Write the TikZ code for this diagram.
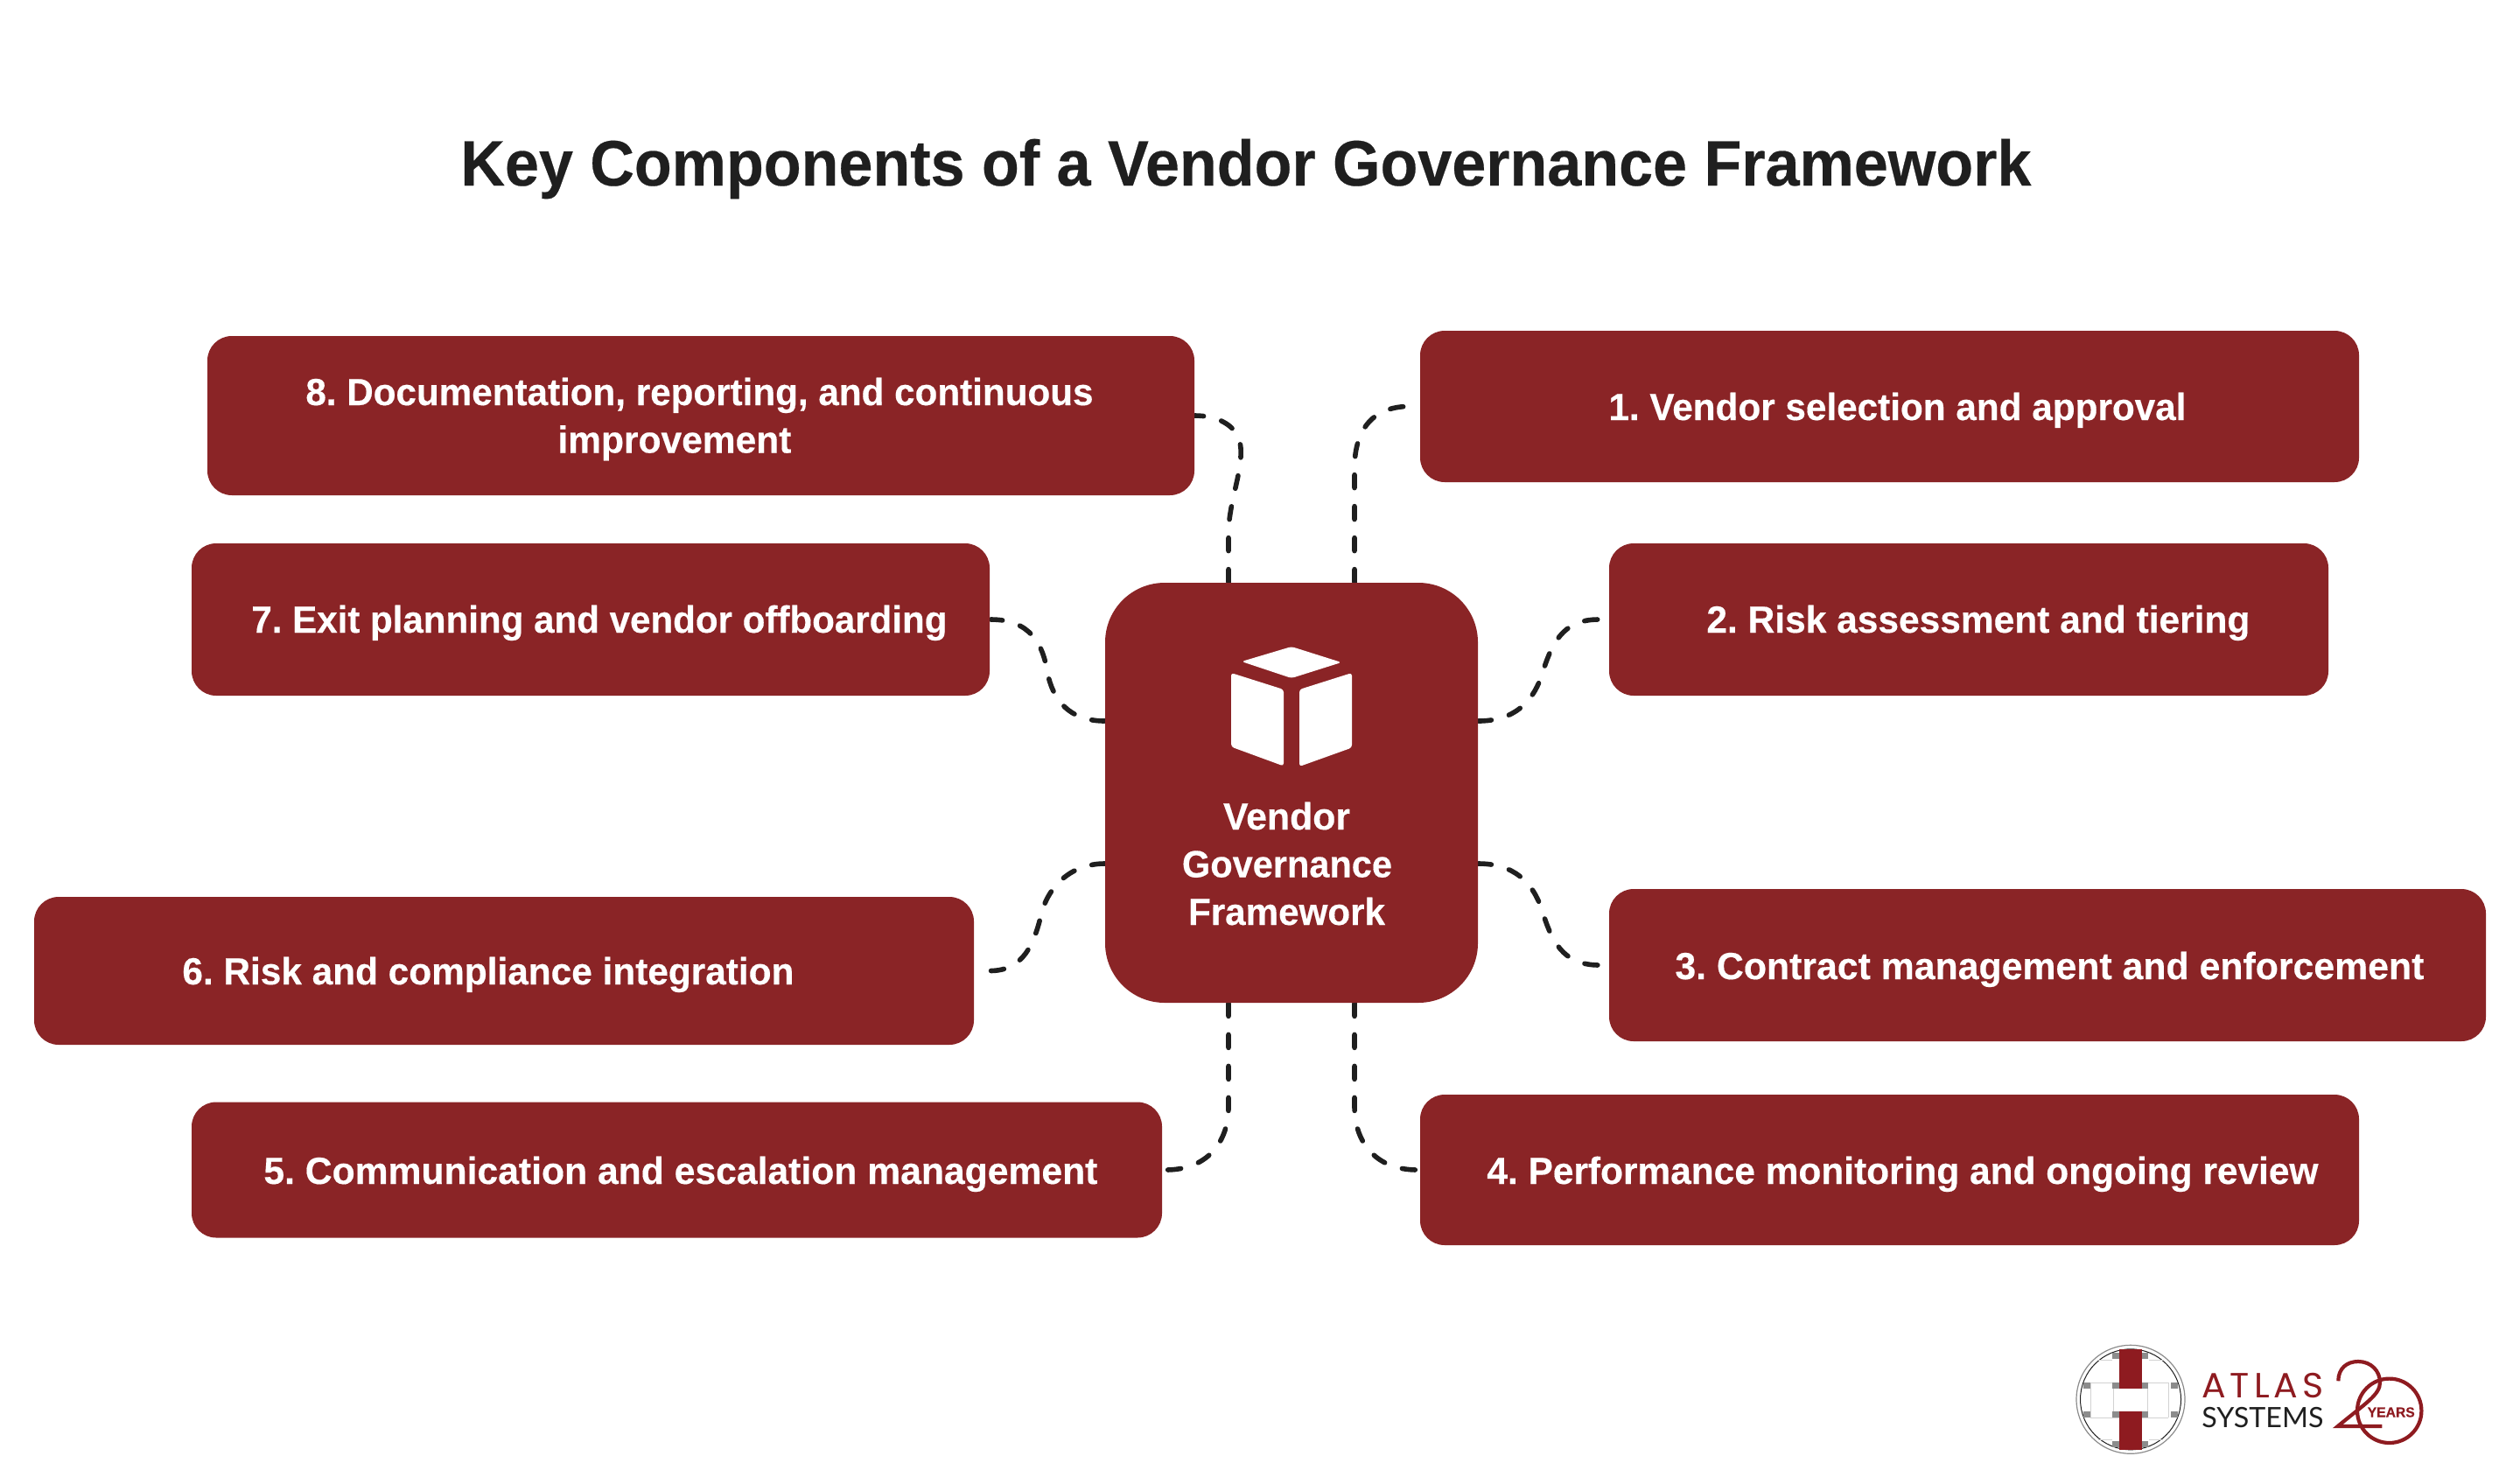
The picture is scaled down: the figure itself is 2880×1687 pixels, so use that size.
\documentclass[tikz,border=0pt]{standalone}
\usepackage{fontspec}
\usepackage{graphicx}
\setmainfont{Liberation Sans}[BoldFeatures={FakeBold=0.35}]
\newfontfamily\logoA[LetterSpace=12]{Poppins}
\newfontfamily\logoB{Lato}
\frenchspacing
\usetikzlibrary{backgrounds,calc}
\definecolor{brandred}{HTML}{8A2426}
\definecolor{inkdark}{HTML}{1F1F1F}
\definecolor{logored}{HTML}{8E1B20}
\definecolor{logogray}{HTML}{8C8C8C}
\definecolor{logoline}{HTML}{D2D2D2}
\newcommand{\fitline}[2]{\resizebox{#1pt}{\height}{#2}}
\tikzset{
  x=0.5pt,y=-0.5pt,
  cardbox/.style={fill=brandred,draw=none,inner sep=0pt,rounded corners=14pt},
  hubbox/.style={fill=brandred,draw=none,inner sep=0pt,rounded corners=34pt},
  cardtext/.style={anchor=base west,inner sep=0pt,text=white,font=\bfseries\fontsize{21.6}{25}\selectfont},
  huptext/.style={anchor=base,inner sep=0pt,text=white,font=\bfseries\fontsize{21.6}{25}\selectfont},
  titletext/.style={anchor=base west,inner sep=0pt,text=inkdark,font=\bfseries\fontsize{36.7}{42}\selectfont},
  conn/.style={draw=inkdark,line width=2.8pt,line cap=round,dash pattern=on 7.5pt off 10.5pt},
  cubeface/.style={fill=white,draw=none,rounded corners=1.6pt},
  graysq/.style={fill=logogray,draw=none},
  logothin/.style={draw=logoline,line width=0.5pt},
}
\newcommand{\cardnode}[5]{\node[cardbox,minimum width={#4*0.5pt},minimum height={#5*0.5pt}] (#1) at (#2,#3) {};}
\begin{document}
\begin{tikzpicture}
\useasboundingbox (0,0) rectangle (2880,1687);

% title
\node[titletext] (title) at (526,212) {\fitline{897.5}{Key Components of a Vendor Governance Framework}};

% cards
\cardnode{b1}{2159.5}{464.5}{1073}{173}
\cardnode{b2}{2250}{708}{822}{174}
\cardnode{b3}{2340}{1103}{1002}{174}
\cardnode{b4}{2159.5}{1337}{1073}{172}
\cardnode{b5}{773.5}{1337}{1109}{155}
\cardnode{b6}{576}{1109.5}{1074}{169}
\cardnode{b7}{675}{708}{912}{174}
\cardnode{b8}{801}{475}{1128}{182}
\node[hubbox,minimum width=213pt,minimum height=240pt] (hub) at (1476,906) {};

% card texts
\node[cardtext] (t1) at (1838,480) {\fitline{330}{1. Vendor selection and approval}};
\node[cardtext] (t2) at (1950,723) {\fitline{310.5}{2. Risk assessment and tiering}};
\node[cardtext] (t3) at (1914,1119) {\fitline{428}{3. Contract management and enforcement}};
\node[cardtext] (t4) at (1699,1353) {\fitline{475}{4. Performance monitoring and ongoing review}};
\node[cardtext] (t5) at (301,1353) {\fitline{476.5}{5. Communication and escalation management}};
\node[cardtext] (t6) at (208,1125) {\fitline{349.5}{6. Risk and compliance integration}};
\node[cardtext] (t7) at (287,723) {\fitline{397.5}{7. Exit planning and vendor offboarding}};
\node[cardtext] (t8a) at (349,463) {\fitline{450}{8. Documentation, reporting, and continuous}};
\node[cardtext] (t8b) at (637,517.5) {\fitline{133.5}{improvement}};

% hub text
\node[huptext] (h1) at (1470.5,948) {\fitline{72.5}{Vendor}};
\node[huptext] (h2) at (1471,1002.5) {\fitline{120}{Governance}};
\node[huptext] (h3) at (1470.5,1057) {\fitline{112.5}{Framework}};

% cube icon
\fill[cubeface] (1476,739) -- (1533,757) -- (1476,775) -- (1419,756) -- cycle;
\fill[cubeface] (1407,769) -- (1467,788) -- (1467,875.5) -- (1407,853.5) -- cycle;
\fill[cubeface] (1485,788) -- (1545,769) -- (1545,854.5) -- (1485,876) -- cycle;

% connectors
\begin{scope}[on background layer]
\draw[conn] ([xshift=36pt]hub.north) -- (1548,535) .. controls (1548,490) and (1570,464) .. ([xshift=-5.5pt]b1.west);
\draw[conn] ([yshift=41pt]hub.east) .. controls (1730,824) and (1752,803) .. (1762.5,770) .. controls (1773,737) and (1785,708) .. ([xshift=-6pt]b2.west);
\draw[conn] ([yshift=-40.5pt]hub.east) .. controls (1730,987) and (1752,1008) .. (1762.5,1041) .. controls (1773,1074) and (1785,1103) .. ([xshift=-5.5pt]b3.west);
\draw[conn] ([xshift=36pt]hub.south) -- (1548,1265) .. controls (1548,1305) and (1572,1337) .. ([xshift=-1.5pt]b4.west);
\draw[conn] ([xshift=-36pt]hub.south) -- (1404,1265) .. controls (1404,1305) and (1380,1337) .. ([xshift=2pt]b5.east);
\draw[conn] ([yshift=-40.5pt]hub.west) .. controls (1225,987) and (1198,1012) .. (1190,1045) .. controls (1182,1078) and (1170,1109.5) .. ([xshift=9pt]b6.east);
\draw[conn] ([yshift=41pt]hub.west) .. controls (1222,824) and (1203,800) .. (1197,768) .. controls (1192,737) and (1178,708) .. ([xshift=0.5pt]b7.east);
\draw[conn] ([xshift=-36pt]hub.north) -- (1404,610) .. controls (1404,575) and (1420,540) .. (1418,512) .. controls (1416,485) and (1390,475) .. (b8.east);
\end{scope}

% logo: woven cross in a double ring
\draw[draw=logogray,line width=0.6pt] (2435,1599.3) circle[radius=62];
\draw[draw=inkdark,line width=0.5pt] (2435,1599.3) circle[radius=57.5];
\foreach \yy in {1580,1620}{\draw[logothin] (2389,\yy) -- (2478,\yy);}
\foreach \xx in {2389,2415,2454,2478}{\draw[logothin] (\xx,1580) -- (\xx,1620);}
\foreach \xx/\yy in {2418/1549.5,2451/1549.5,2384.5/1583,2418/1583,2451/1583,2484.5/1583,2384.5/1616,2418/1616,2451/1616,2484.5/1616,2418/1650,2451/1650}{
  \fill[graysq] (\xx-4,\yy-3.5) rectangle (\xx+4,\yy+3.5);}
\foreach \yy in {1554,1645}{\draw[logothin] (2398,\yy) -- (2414,\yy) (2456,\yy) -- (2472,\yy);}
\fill[logored] (2422,1542.3) rectangle (2447.7,1587.3);
\fill[logored] (2422,1613.3) rectangle (2447.7,1656.7);

\node[anchor=base west,inner sep=0pt,text=logored,font=\logoA\fontsize{20}{24}\selectfont] (atlas) at (2516,1597.3) {\fitline{69.5}{ATLAS}};
\node[anchor=base west,inner sep=0pt,text=inkdark,font=\logoB\fontsize{16}{20}\selectfont] (systems) at (2516,1631.7) {\fitline{69.5}{SYSTEMS}};

% logo: 20 years
\draw[draw=logored,line width=2.1pt] (2730.7,1612.3) circle[radius=36.7];
\draw[draw=logored,line width=2.1pt,line join=miter] (2672.3,1578.3) .. controls (2672.3,1564) and (2682,1556) .. (2695,1556) .. controls (2710,1556) and (2720,1567) .. (2720,1580) .. controls (2720,1594) and (2703,1604) .. (2671.7,1630) -- (2722.3,1630);
\node[inner sep=0pt,text=logored,font=\bfseries\fontsize{8}{10}\selectfont] (years) at (2732.7,1614) {\fitline{27}{YEARS}};
\end{tikzpicture}
\end{document}
